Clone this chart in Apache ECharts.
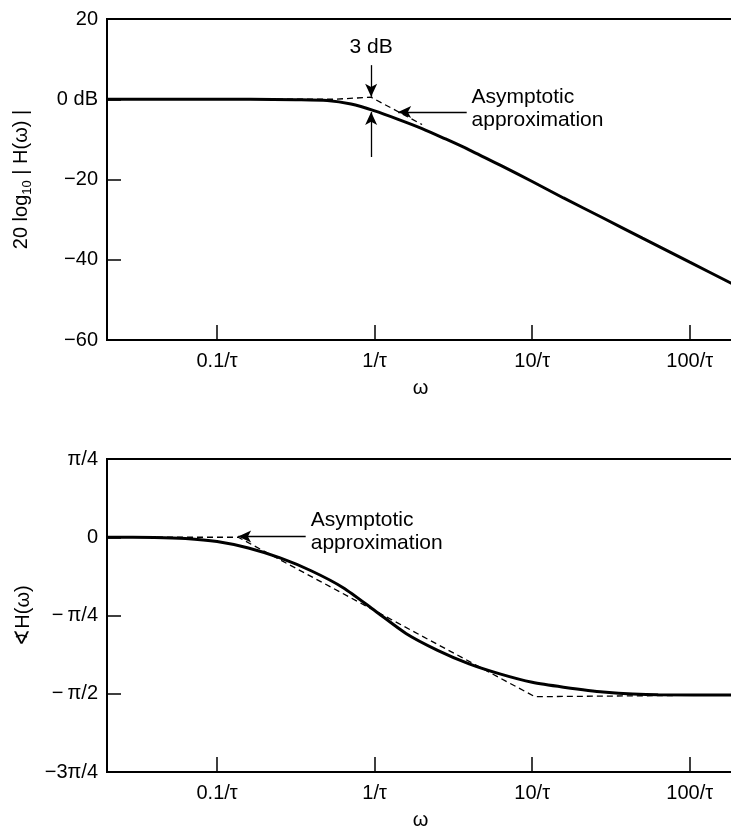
<!DOCTYPE html>
<html>
<head>
<meta charset="utf-8">
<script src="https://cdn.jsdelivr.net/npm/echarts@6/dist/echarts.min.js"></script>
<style>
  html, body { margin: 0; padding: 0; background: #fff; }
  #chart { width: 731px; height: 830px; }
</style>
</head>
<body>
<div id="chart"></div>
<script>
// frequency ticks (omega * tau)
const tickW = [0.1, 1, 10, 100]
const tickLabels = ['0.1/τ', '1/τ', '10/τ', '100/τ']

// magnitude plot
const magW = [0.02, 0.163, 0.316, 0.5, 0.708, 1, 1.41, 2.0, 2.82, 3.98, 6.31, 10, 15.8, 28.2, 50.1, 100, 191]
const magDb = [0, 0, -0.1, -0.3, -1.2, -2.9, -5.0, -7.3, -9.9, -12.6, -16.5, -20.5, -24.6, -29.6, -34.6, -40.6, -46.2]
const magAsymW = [0.02, 0.55, 0.95, 2.0]
const magAsymDb = [0, 0, 0.5, -6.3]

// phase plot (degrees)
const phaseW = [0.02, 0.04, 0.063, 0.1, 0.158, 0.251, 0.398, 0.631, 1, 1.58, 2.51, 3.98, 6.31, 10, 15.8, 28.2, 63.1, 191]
const phaseDeg = [0, -0.1, -0.7, -2.5, -6.2, -11.9, -19.4, -29.0, -42.1, -55.3, -65.0, -72.8, -78.7, -83.4, -86.2, -89.0, -90.6, -90.7]
const phaseAsymW = [0.02, 0.136, 10.4, 191]
const phaseAsymDeg = [0, 0, -91.7, -90.7]

const phaseLabels = { '45': 'π/4', '0': '0', '-45': '\u2212\u2009π/4', '-90': '\u2212\u2009π/2', '-135': '\u22123π/4' }

const FONT = '"Liberation Sans", Arial, Helvetica, sans-serif'

function zip(xs, ys) {
  return xs.map((x, i) => [x, ys[i]])
}

function xAxisFor(gridIndex) {
  return {
    type: 'log',
    logBase: 10,
    gridIndex: gridIndex,
    min: 0.02,
    max: 191,
    name: 'ω',
    nameLocation: 'middle',
    nameGap: 38,
    nameTextStyle: { color: '#000', fontSize: 20, fontFamily: FONT },
    axisLine: { show: false, onZero: false },
    splitLine: { show: false },
    minorTick: { show: false },
    axisTick: {
      show: true,
      inside: true,
      length: 15,
      customValues: tickW,
      lineStyle: { color: '#000', width: 1.5 }
    },
    axisLabel: {
      customValues: tickW,
      margin: 11,
      color: '#000',
      fontSize: 20,
      fontFamily: FONT,
      formatter: function(v) {
        return tickLabels[Math.round(Math.log10(v)) + 1]
      }
    }
  }
}

const chart = echarts.init(document.getElementById('chart'), null, { renderer: 'canvas' })

const option = {
  animation: false,
  backgroundColor: '#fff',
  grid: [
    { left: 107, top: 19, right: -3, height: 321, show: true, borderColor: '#000', borderWidth: 2,
      backgroundColor: 'transparent', outerBoundsMode: 'none' },
    { left: 107, top: 459, right: -3, height: 313, show: true, borderColor: '#000', borderWidth: 2,
      backgroundColor: 'transparent', outerBoundsMode: 'none' }
  ],
  xAxis: [xAxisFor(0), xAxisFor(1)],
  yAxis: [
    {
      type: 'value',
      gridIndex: 0,
      min: -60,
      max: 20,
      interval: 20,
      name: '20 log{sub|10} | H(ω) |',
      nameLocation: 'middle',
      nameGap: 73,
      nameTextStyle: {
        color: '#000', fontSize: 20, fontFamily: FONT, lineHeight: 26,
        rich: { sub: { fontSize: 13, fontFamily: FONT, color: '#000', lineHeight: 26, verticalAlign: 'bottom' } }
      },
      axisLine: { show: false, onZero: false },
      splitLine: { show: false },
      axisTick: { show: true, inside: true, length: 14, lineStyle: { color: '#000', width: 1.5 } },
      axisLabel: {
        margin: 9,
        color: '#000',
        fontSize: 20,
        fontFamily: FONT,
        formatter: function(v) {
          if (v === 0) return '0 dB'
          if (v < 0) return '\u2212' + Math.abs(v)
          return String(v)
        }
      }
    },
    {
      type: 'value',
      gridIndex: 1,
      min: -135,
      max: 45,
      interval: 45,
      name: '∢H(ω)',
      nameLocation: 'middle',
      nameGap: 72,
      nameTextStyle: { color: '#000', fontSize: 20, fontFamily: FONT },
      axisLine: { show: false, onZero: false },
      splitLine: { show: false },
      axisTick: { show: true, inside: true, length: 14, lineStyle: { color: '#000', width: 1.5 } },
      axisLabel: {
        margin: 9,
        color: '#000',
        fontSize: 20,
        fontFamily: FONT,
        formatter: function(v) {
          return phaseLabels[String(Math.round(v))]
        }
      }
    }
  ],
  series: [
    {
      name: 'magnitude',
      type: 'line',
      xAxisIndex: 0,
      yAxisIndex: 0,
      data: zip(magW, magDb),
      smooth: 0.25,
      showSymbol: false,
      lineStyle: { color: '#000', width: 3 },
      z: 3,
      markLine: {
        silent: true,
        animation: false,
        label: { show: false },
        lineStyle: { color: '#000', width: 1.3, type: 'solid' },
        symbolSize: [9, 13],
        data: [
          [{ coord: [0.95, 8.5], symbol: 'none' }, { coord: [0.95, 0.6], symbol: 'arrow' }],
          [{ coord: [0.95, -14.4], symbol: 'none' }, { coord: [0.95, -3.2], symbol: 'arrow' }],
          [{ coord: [3.84, -3.2], symbol: 'none' }, { coord: [1.41, -3.2], symbol: 'arrow' }]
        ]
      }
    },
    {
      name: 'magnitude asymptote',
      type: 'line',
      xAxisIndex: 0,
      yAxisIndex: 0,
      data: zip(magAsymW, magAsymDb),
      showSymbol: false,
      lineStyle: { color: '#000', width: 1.3, type: [6, 4] },
      z: 2
    },
    {
      name: 'phase',
      type: 'line',
      xAxisIndex: 1,
      yAxisIndex: 1,
      data: zip(phaseW, phaseDeg),
      smooth: 0.25,
      showSymbol: false,
      lineStyle: { color: '#000', width: 3 },
      z: 3,
      markLine: {
        silent: true,
        animation: false,
        label: { show: false },
        lineStyle: { color: '#000', width: 1.3, type: 'solid' },
        symbolSize: [9, 13],
        data: [
          [{ coord: [0.365, 0.5], symbol: 'none' }, { coord: [0.136, 0.5], symbol: 'arrow' }]
        ]
      }
    },
    {
      name: 'phase asymptote',
      type: 'line',
      xAxisIndex: 1,
      yAxisIndex: 1,
      data: zip(phaseAsymW, phaseAsymDeg),
      showSymbol: false,
      lineStyle: { color: '#000', width: 1.3, type: [6, 4] },
      z: 2
    }
  ]
}

chart.setOption(option)

// annotation texts, placed in data coordinates
const notes = [
  { grid: 0, at: [0.95, 13], text: '3 dB', align: 'center' },
  { grid: 0, at: [4.12, -2.4], text: 'Asymptotic\napproximation', align: 'left' },
  { grid: 1, at: [0.393, 3.3], text: 'Asymptotic\napproximation', align: 'left' }
]
chart.setOption({
  graphic: notes.map(n => {
    const p = chart.convertToPixel({ gridIndex: n.grid }, n.at)
    return {
      type: 'text',
      x: p[0],
      y: p[1],
      silent: true,
      style: {
        text: n.text,
        fill: '#000',
        font: '21px ' + FONT,
        lineHeight: 23,
        align: n.align,
        verticalAlign: 'middle'
      }
    }
  })
})
</script>
</body>
</html>
